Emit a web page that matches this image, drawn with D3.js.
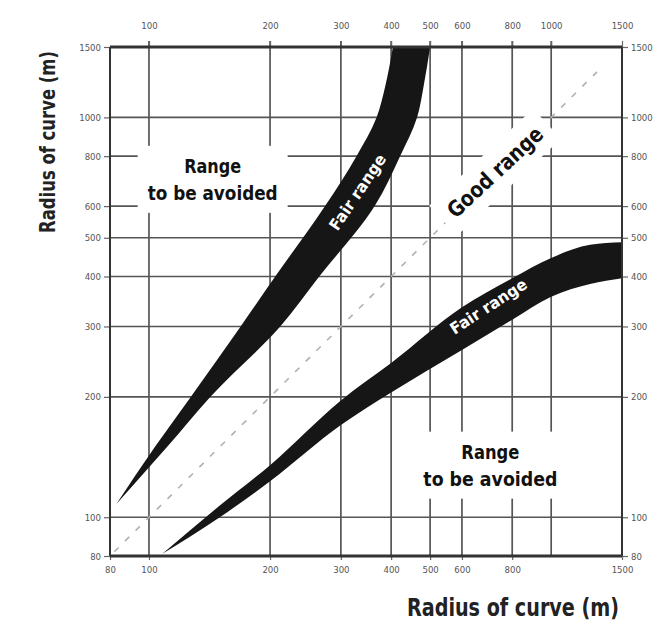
<!DOCTYPE html>
<html>
<head>
<meta charset="utf-8">
<script src="https://cdn.jsdelivr.net/npm/d3@7"></script>
<style>
  body { margin: 0; background: #fff; }
  svg { display: block; }
  .tick text { font-family: "DejaVu Sans Condensed", "DejaVu Sans", sans-serif; font-stretch: condensed; font-size: 9.5px; fill: #555; }
  .tick line { stroke: #666; stroke-width: 1.2; }
  .title, .note { font-family: "DejaVu Sans Condensed", "DejaVu Sans", sans-serif; font-stretch: condensed; font-weight: bold; }
  .title { fill: #222; }
</style>
</head>
<body>
<svg id="chart" width="669" height="633"></svg>
<script>
// tick values
const xTicksTop = [100, 200, 300, 400, 500, 600, 800, 1000, 1500];
const xTicksBottom = [80, 100, 200, 300, 400, 500, 600, 800, 1500];
const yTicks = [80, 100, 200, 300, 400, 500, 600, 800, 1000, 1500];
const gridValues = [100, 200, 300, 400, 500, 600, 800, 1000];

// upper band: left / right edge (x, m) at each y (m)
const bandAY = [108, 150, 200, 300, 400, 600, 800, 1000, 1200, 1500];
const bandALeft = [83, 103.5, 127, 169, 206, 274, 328, 368, 387, 404];
const bandARight = [83, 111, 142, 212, 265, 364, 421, 464, 482, 500];

// lower band: top / bottom edge (y, m) at each x (m)
const bandBX = [108, 150, 200, 300, 400, 600, 800, 1000, 1250, 1500];
const bandBTop = [81, 107, 135, 196, 243, 335, 396, 445, 480, 487];
const bandBBottom = [81, 100, 123, 170, 205, 262, 312, 356, 383, 396];

// equal radii line
const diagonal = [82, 1300];

// annotations
const notes = [
  { lines: ['Range', 'to be avoided'], widths: [57, 130], x: 144, y: 700, angle: 0, size: 20, color: '#111', mask: true },
  { lines: ['Range', 'to be avoided'], widths: [58, 134], x: 706, y: 135, angle: 0, size: 20, color: '#111', mask: true },
  { lines: ['Good range'], widths: [122], x: 725, y: 730, angle: -43, size: 22, color: '#111', mask: true },
  { lines: ['Fair range'], widths: [88], x: 330, y: 650, angle: -56, size: 16, color: '#fff', mask: false },
  { lines: ['Fair range'], widths: [88], x: 698, y: 337, angle: -33, size: 16, color: '#fff', mask: false }
];

const svg = d3.select('#chart');
const pLeft = 110, pRight = 622, pTop = 47, pBottom = 556;

const x = d3.scaleLog().domain([80, 1500]).range([pLeft, pRight]);
const y = d3.scaleLog().domain([80, 1500]).range([pBottom, pTop]);

// grid
const grid = svg.append('g').attr('stroke', '#555').attr('stroke-width', 1.7);
grid.selectAll('.vg').data(gridValues).enter().append('line')
  .attr('x1', d => x(d)).attr('x2', d => x(d))
  .attr('y1', pTop - 6).attr('y2', pBottom);
grid.selectAll('.hg').data(gridValues).enter().append('line')
  .attr('y1', d => y(d)).attr('y2', d => y(d))
  .attr('x1', pLeft).attr('x2', pRight);

// diagonal
svg.append('line')
  .attr('x1', x(diagonal[0])).attr('y1', y(diagonal[0]))
  .attr('x2', x(diagonal[1])).attr('y2', y(diagonal[1]))
  .attr('stroke', '#b0b0b0').attr('stroke-width', 1.6)
  .attr('stroke-dasharray', '6 9');

// axes
const fmt = d3.format('d');
const styleAxis = g => g.call(a => a.select('.domain').remove());
svg.append('g').attr('transform', `translate(0,${pTop})`)
  .call(d3.axisTop(x).tickValues(xTicksTop).tickFormat(fmt).tickSize(6).tickPadding(12))
  .call(styleAxis);
svg.append('g').attr('transform', `translate(0,${pBottom})`)
  .call(d3.axisBottom(x).tickValues(xTicksBottom).tickFormat(fmt).tickSize(4).tickPadding(6))
  .call(styleAxis);
svg.append('g').attr('transform', `translate(${pLeft},0)`)
  .call(d3.axisLeft(y).tickValues(yTicks).tickFormat(fmt).tickSize(6).tickPadding(3))
  .call(styleAxis);
svg.append('g').attr('transform', `translate(${pRight},0)`)
  .call(d3.axisRight(y).tickValues(yTicks).tickFormat(fmt).tickSize(6).tickPadding(3))
  .call(styleAxis);

// annotations (masks first, so grid is interrupted behind the text)
const noteLayer = svg.append('g');
const bandLayer = svg.append('g');
const topLayer = svg.append('g');

notes.forEach(n => {
  const layer = n.mask ? noteLayer : topLayer;
  const g = layer.append('g')
    .attr('transform', `translate(${x(n.x)},${y(n.y)}) rotate(${n.angle})`);
  const lh = n.size * 1.35;
  n.lines.forEach((line, i) => {
    g.append('text')
      .attr('class', 'note')
      .attr('text-anchor', 'middle')
      .attr('font-size', n.size)
      .attr('fill', n.color)
      .attr('x', 0)
      .attr('y', -(n.lines.length - 1) * lh / 2 + i * lh + n.size * 0.35)
      .attr('textLength', n.widths[i])
      .attr('lengthAdjust', 'spacingAndGlyphs')
      .text(line);
  });
  if (n.mask) {
    const b = g.node().getBBox();
    g.insert('rect', 'text')
      .attr('x', b.x - 10).attr('y', b.y - 8)
      .attr('width', b.width + 20).attr('height', b.height + 16)
      .attr('fill', '#fff');
  }
});

// bands
const bandA = bandAY.map((v, i) => ({ y: v, l: bandALeft[i], r: bandARight[i] }));
const bandB = bandBX.map((v, i) => ({ x: v, t: bandBTop[i], b: bandBBottom[i] }));

bandLayer.append('path')
  .datum(bandA)
  .attr('fill', '#161616')
  .attr('d', d3.area().curve(d3.curveMonotoneY)
    .y(d => y(d.y)).x0(d => x(d.l)).x1(d => x(d.r)));

bandLayer.append('path')
  .datum(bandB)
  .attr('fill', '#161616')
  .attr('d', d3.area().curve(d3.curveMonotoneX)
    .x(d => x(d.x)).y0(d => y(d.b)).y1(d => y(d.t)));

// frame
const frame = svg.append('g').attr('stroke', '#333').attr('fill', 'none');
frame.append('line').attr('x1', pLeft).attr('x2', pRight).attr('y1', pTop).attr('y2', pTop).attr('stroke-width', 3.2);
frame.append('line').attr('x1', pLeft).attr('x2', pRight).attr('y1', pBottom).attr('y2', pBottom).attr('stroke-width', 3.2);
frame.append('line').attr('x1', pLeft).attr('x2', pLeft).attr('y1', pTop).attr('y2', pBottom).attr('stroke-width', 2);
frame.append('line').attr('x1', pRight).attr('x2', pRight).attr('y1', pTop).attr('y2', pBottom).attr('stroke-width', 2);

// axis titles
svg.append('text')
  .attr('class', 'title')
  .attr('font-size', 22)
  .attr('text-anchor', 'middle')
  .attr('transform', 'translate(55,142) rotate(-90)')
  .attr('textLength', 182)
  .attr('lengthAdjust', 'spacingAndGlyphs')
  .text('Radius of curve (m)');

svg.append('text')
  .attr('class', 'title')
  .attr('font-size', 25)
  .attr('text-anchor', 'end')
  .attr('x', pRight - 3)
  .attr('y', 616)
  .attr('textLength', 212)
  .attr('lengthAdjust', 'spacingAndGlyphs')
  .text('Radius of curve (m)');
</script>
</body>
</html>
